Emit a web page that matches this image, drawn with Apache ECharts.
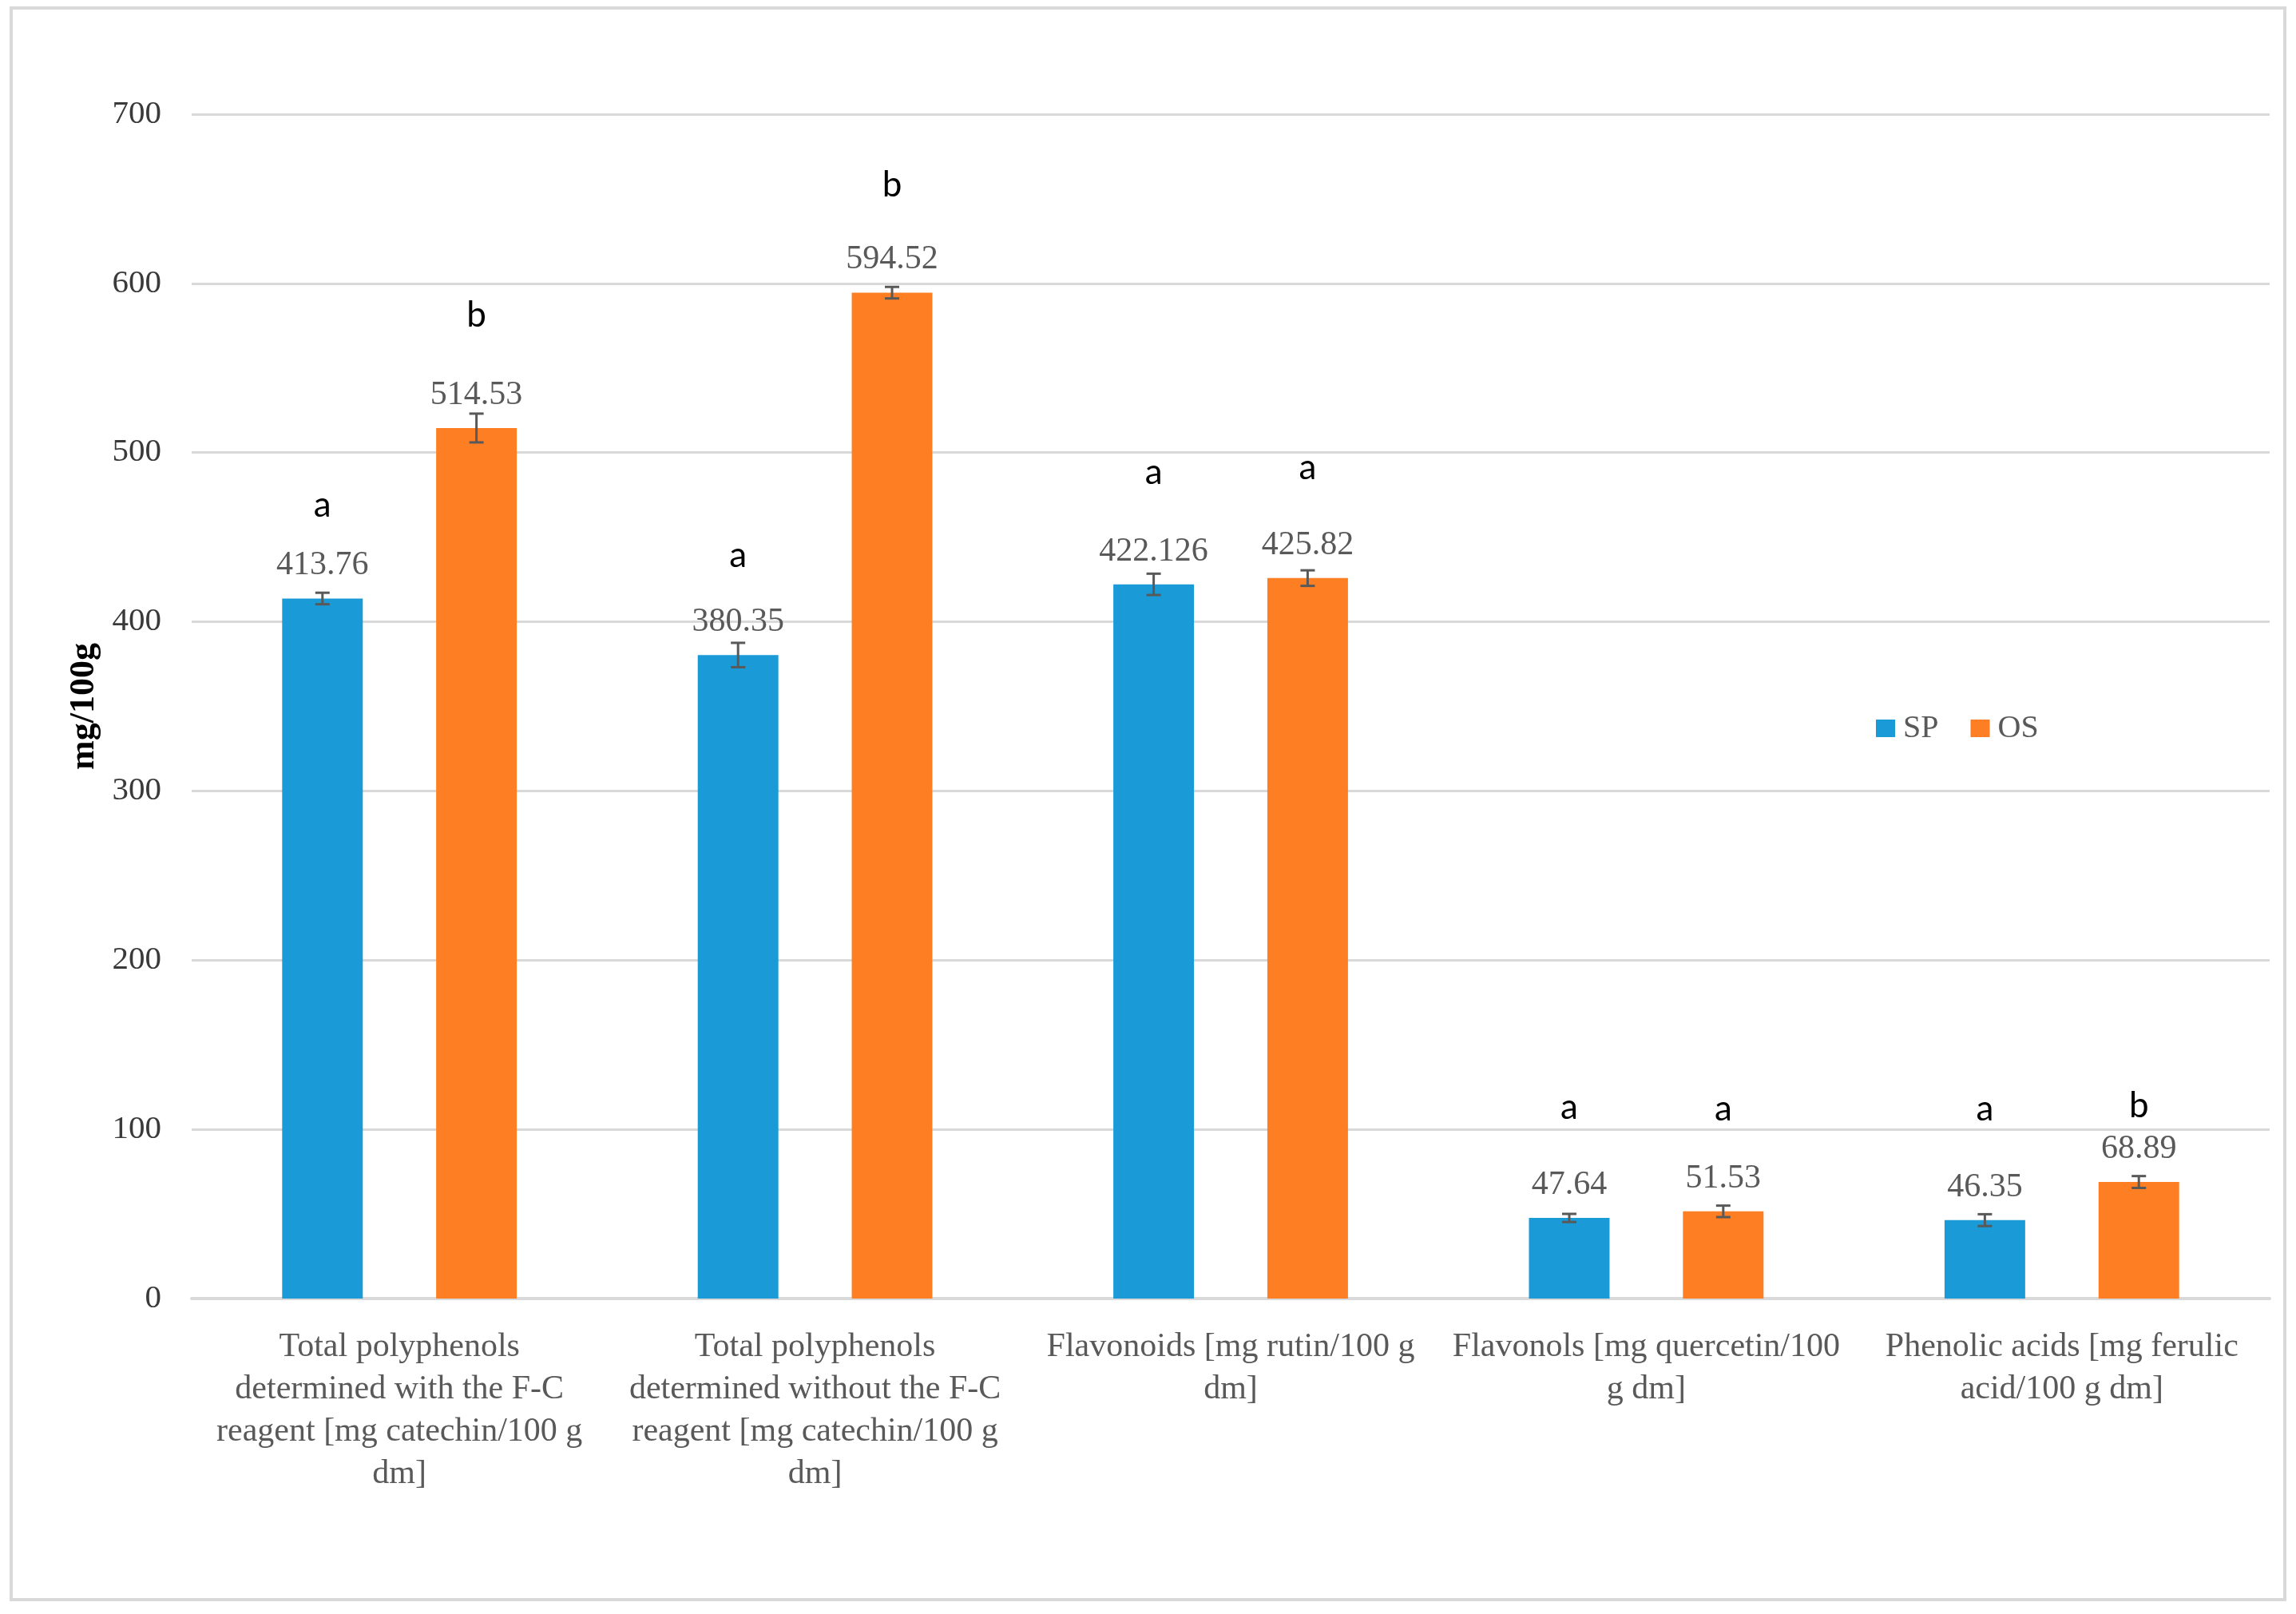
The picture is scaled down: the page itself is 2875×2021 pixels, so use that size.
<!DOCTYPE html>
<html>
<head>
<meta charset="utf-8">
<script src="https://cdn.jsdelivr.net/npm/echarts@6/dist/echarts.min.js"></script>
<style>
  html, body { margin: 0; padding: 0; background: #fff; }
  #main { width: 2875px; height: 2021px; }
</style>
</head>
<body>
<div id="main"></div>
<script>
// categories, wrapped the same way as the original figure
const categories = [
  "Total polyphenols\ndetermined with the F-C\nreagent [mg catechin/100 g\ndm]",
  "Total polyphenols\ndetermined without the F-C\nreagent [mg catechin/100 g\ndm]",
  "Flavonoids [mg rutin/100 g\ndm]",
  "Flavonols [mg quercetin/100\ng dm]",
  "Phenolic acids [mg ferulic\nacid/100 g dm]"
];
const spValues = [413.76, 380.35, 422.126, 47.64, 46.35];
const osValues = [514.53, 594.52, 425.82, 51.53, 68.89];
const spErrors = [3.4, 7.2, 6.3, 2.4, 3.5];
const osErrors = [8.5, 3.4, 4.6, 3.4, 3.5];
// significance letters and the height (in mg/100g) they sit at
const spLetters = ["a", "a", "a", "a", "a"];
const osLetters = ["b", "b", "a", "a", "b"];
const spLetterY = [469, 439, 488, 113, 112];
const osLetterY = [581, 658, 491, 112, 114];

const BAR_W = 0.194;
const BAR_GAP = 0.91;
const serif = "Liberation Serif";

const chart = echarts.init(document.getElementById("main"), null, { renderer: "canvas" });

function errorSeries(name, values, errors, side) {
  return {
    type: "custom",
    name: name,
    silent: true,
    z: 5,
    encode: { x: 0, y: [1, 2] },
    data: values.map((v, i) => [i, v - errors[i], v + errors[i]]),
    renderItem: function (params, api) {
      const i = api.value(0);
      const lo = api.coord([i, api.value(1)]);
      const hi = api.coord([i, api.value(2)]);
      const catW = api.size([1, 0])[0];
      const x = lo[0] + side * catW * BAR_W * (1 + BAR_GAP) / 2;
      const cap = 9;
      const style = { stroke: "#595959", lineWidth: 3 };
      return {
        type: "group",
        children: [
          { type: "line", shape: { x1: x, y1: lo[1], x2: x, y2: hi[1] }, style: style },
          { type: "line", shape: { x1: x - cap, y1: hi[1], x2: x + cap, y2: hi[1] }, style: style },
          { type: "line", shape: { x1: x - cap, y1: lo[1], x2: x + cap, y2: lo[1] }, style: style }
        ]
      };
    }
  };
}

function valueBar(name, values, color) {
  return {
    type: "bar",
    name: name,
    data: values,
    barWidth: (BAR_W * 100) + "%",
    barGap: (BAR_GAP * 100) + "%",
    itemStyle: { color: color },
    label: {
      show: true,
      position: "top",
      distance: 20,
      formatter: p => String(p.value),
      fontFamily: serif,
      fontSize: 42,
      color: "#595959"
    }
  };
}

// invisible bars on a twin axis, only used to place the letters over each bar
function letterBar(name, heights, letters) {
  return {
    type: "bar",
    name: name,
    xAxisIndex: 1,
    silent: true,
    data: heights,
    barWidth: (BAR_W * 100) + "%",
    barGap: (BAR_GAP * 100) + "%",
    itemStyle: { color: "rgba(0,0,0,0)" },
    label: {
      show: true,
      position: "top",
      distance: 0,
      verticalAlign: "middle",
      formatter: p => letters[p.dataIndex],
      fontFamily: "Lato",
      fontSize: 44,
      color: "#000"
    }
  };
}

const option = {
  backgroundColor: "#fff",
  animation: false,
  graphic: [{
    type: "rect",
    shape: { x: 14, y: 10, width: 2847, height: 1993 },
    style: { fill: "none", stroke: "#d9d9d9", lineWidth: 4 },
    silent: true
  }],
  legend: {
    data: ["SP", "OS"],
    left: 2344,
    top: 887,
    icon: "rect",
    itemWidth: 24,
    itemHeight: 22,
    itemGap: 40,
    textStyle: { fontFamily: serif, fontSize: 40, color: "#595959", padding: [0, 0, 0, 5] }
  },
  grid: { left: 240, right: 33, top: 143, bottom: 395 },
  xAxis: [{
    type: "category",
    data: categories,
    axisLine: { show: true, lineStyle: { color: "#d9d9d9", width: 4 } },
    axisTick: { show: false },
    axisLabel: {
      interval: 0,
      margin: 34,
      fontFamily: serif,
      fontSize: 42,
      lineHeight: 53,
      color: "#595959",
      align: "center"
    }
  }, {
    type: "category",
    data: categories,
    show: false
  }],
  yAxis: {
    type: "value",
    min: 0,
    max: 700,
    interval: 100,
    name: "mg/100g",
    nameLocation: "middle",
    nameRotate: 90,
    nameGap: 112,
    nameTextStyle: { fontFamily: serif, fontWeight: "bold", fontSize: 44, color: "#000" },
    axisLine: { show: false },
    axisTick: { show: false },
    axisLabel: { margin: 38, fontFamily: serif, fontSize: 41, color: "#3a3a3a" },
    splitLine: { lineStyle: { color: "#d9d9d9", width: 3 } }
  },
  series: [
    valueBar("SP", spValues, "#1a9bd7"),
    valueBar("OS", osValues, "#fe7f23"),
    errorSeries("SP error", spValues, spErrors, -1),
    errorSeries("OS error", osValues, osErrors, 1),
    letterBar("SP letters", spLetterY, spLetters),
    letterBar("OS letters", osLetterY, osLetters)
  ]
};

chart.setOption(option);
</script>
</body>
</html>
